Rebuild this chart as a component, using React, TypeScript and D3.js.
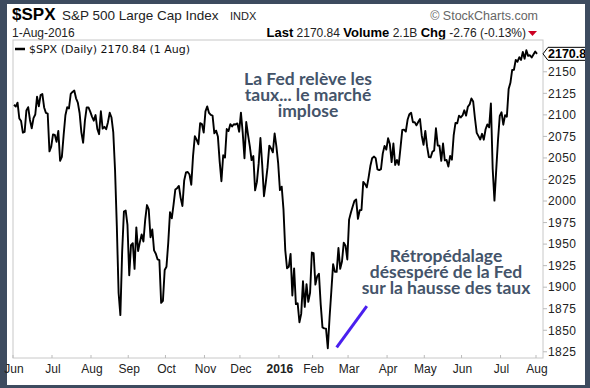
import React from "react";
import * as d3 from "d3";

// month labels on the time axis (first trading day of each month)
const monthLabels = ["Jun", "Jul", "Aug", "Sep", "Oct", "Nov", "Dec", "2016", "Feb", "Mar", "Apr", "May", "Jun", "Jul", "Aug"];

// daily closes of $SPX, grouped by month (Jun 2015 -> 1 Aug 2016)
const jun15 = [2111.7, 2109.6, 2114.1, 2095.8, 2092.8, 2079.3, 2080.2, 2105.2, 2108.9, 2094.1, 2084.4, 2096.3, 2100.4, 2121.2, 2110.0, 2122.9, 2124.2, 2108.6, 2102.3, 2101.5, 2057.6, 2063.1];
const jul15 = [2077.4, 2076.8, 2068.8, 2081.3, 2046.7, 2051.3, 2076.6, 2099.6, 2108.9, 2107.4, 2124.3, 2126.6, 2128.3, 2119.2, 2114.2, 2102.2, 2079.7, 2067.6, 2093.3, 2108.6, 2108.6, 2103.8];
const aug15 = [2098.0, 2093.3, 2099.8, 2083.6, 2077.6, 2104.2, 2084.1, 2086.1, 2083.4, 2091.5, 2102.4, 2096.9, 2079.6, 2035.7, 1970.9, 1893.2, 1867.6, 1940.5, 1987.7, 1988.9, 1972.2];
const sep15 = [1913.9, 1948.9, 1951.1, 1921.2, 1969.4, 1942.0, 1952.3, 1961.1, 1953.0, 1978.1, 1995.3, 1990.2, 1958.0, 1967.0, 1942.7, 1938.8, 1932.2, 1931.3, 1881.8, 1884.1, 1920.0];
const oct15 = [1923.8, 1951.4, 1987.1, 1979.9, 1995.8, 2013.4, 2014.9, 2017.5, 2003.7, 1994.2, 2023.9, 2033.1, 2033.7, 2030.8, 2018.9, 2052.5, 2075.2, 2071.2, 2065.9, 2090.4, 2089.4, 2079.4];
const nov15 = [2104.1, 2109.8, 2102.3, 2099.9, 2099.2, 2078.6, 2081.7, 2075.0, 2046.0, 2023.0, 2053.2, 2050.4, 2083.6, 2081.2, 2089.2, 2086.6, 2089.1, 2088.9, 2090.1, 2080.4];
const dec15 = [2102.6, 2079.5, 2049.6, 2091.7, 2077.1, 2063.6, 2047.6, 2052.2, 2012.4, 2021.9, 2043.4, 2073.1, 2041.9, 2005.6, 2021.2, 2039.0, 2064.3, 2061.0, 2056.5, 2078.4, 2063.4, 2043.9];
const jan16 = [2012.7, 2016.7, 1990.3, 1943.1, 1922.0, 1923.7, 1938.7, 1890.3, 1921.8, 1880.3, 1881.3, 1859.3, 1869.0, 1906.9, 1877.1, 1903.6, 1883.0, 1893.4, 1940.2];
const feb16 = [1939.4, 1903.0, 1912.5, 1915.5, 1880.1, 1853.4, 1852.2, 1851.9, 1829.1, 1864.8, 1895.6, 1926.8, 1917.8, 1917.8, 1945.5, 1921.3, 1929.8, 1951.7, 1948.1, 1932.2];
const mar16 = [1978.4, 1986.5, 1993.4, 2000.0, 2001.8, 1979.3, 1989.3, 1989.6, 2022.2, 2019.6, 2015.9, 2027.2, 2040.6, 2049.6, 2051.6, 2049.8, 2036.7, 2035.9, 2037.1, 2055.0, 2064.0, 2059.7];
const apr16 = [2072.8, 2066.1, 2045.2, 2066.7, 2041.9, 2047.6, 2042.0, 2061.7, 2082.4, 2082.8, 2080.7, 2094.3, 2100.8, 2102.4, 2091.5, 2091.6, 2087.8, 2091.7, 2095.2, 2075.8, 2065.3];
const may16 = [2081.4, 2063.4, 2051.1, 2050.6, 2057.1, 2058.7, 2084.4, 2064.5, 2064.1, 2046.6, 2066.7, 2047.2, 2047.6, 2040.0, 2052.3, 2048.0, 2076.1, 2090.5, 2090.1, 2099.1, 2097.0];
const jun16 = [2099.3, 2105.3, 2099.1, 2109.4, 2112.1, 2119.1, 2115.5, 2096.1, 2079.1, 2075.3, 2071.5, 2078.0, 2071.2, 2083.3, 2088.9, 2085.5, 2113.3, 2037.4, 2000.5, 2036.1, 2070.8, 2098.9];
const jul16 = [2103.0, 2088.6, 2099.7, 2097.9, 2129.9, 2137.2, 2152.1, 2152.4, 2163.8, 2161.7, 2166.9, 2163.8, 2173.0, 2165.2, 2175.0, 2168.5, 2169.2, 2166.6, 2170.1, 2173.6];
const aug16 = [2170.84];

const months = [jun15, jul15, aug15, sep15, oct15, nov15, dec15, jan16, feb16, mar16, apr16, may16, jun16, jul16, aug16];

const yTicks = [1825, 1850, 1875, 1900, 1925, 1950, 1975, 2000, 2025, 2050, 2075, 2100, 2125, 2150];

// annotations: text lines and the purple stroke (trading-day index, price)
const noteFed = ["La Fed relève les", "taux... le marché", "implose"];
const noteBack = ["Rétropédalage", "désespéré de la Fed", "sur la hausse des taux"];
const noteStroke: [number, number][] = [[182, 1830], [199, 1878]];

const W = 590;
const H = 388;
const plot = { left: 13, right: 543, top: 40, bottom: 358 };

export default function App() {
  const closes = months.flat();
  const starts: number[] = [];
  months.reduce((acc, m) => { starts.push(acc); return acc + m.length; }, 0);

  const x = d3.scaleLinear().domain([0, closes.length - 1]).range([14, 537]);
  const y = d3.scaleLinear().domain([1817.8, 2186.9]).range([plot.bottom, plot.top]);

  const line = d3.line<number>().x((_, i) => x(i)).y(d => y(d));
  const last = closes[closes.length - 1];
  const ly = y(last);

  const axisFont = "'Liberation Sans', Arial, sans-serif";
  const noteColor = "#44546a";

  return (
    <svg width={W} height={H} style={{ position: "absolute", left: 0, top: 0 }} fontFamily={axisFont}>
      <rect x={0} y={0} width={W} height={H} fill="#3d4b5f" />
      <rect x={7} y={4} width={578} height={381} fill="#ffffff" />

      {/* header */}
      <text x={12} y={20} fontSize={17} fontWeight="bold" fill="#000">$SPX</text>
      <text x={62} y={20} fontSize={13.5} fill="#222">S&amp;P 500 Large Cap Index</text>
      <text x={230} y={20} fontSize={11} fill="#222">INDX</text>
      <text x={538} y={20} fontSize={12.5} fill="#666" textAnchor="end">© StockCharts.com</text>
      <text x={12} y={37} fontSize={12} fill="#222">1-Aug-2016</text>
      <text x={526} y={37} fontSize={12} fill="#222" textAnchor="end">
        <tspan fontWeight="bold" fontSize={13} fill="#000">Last</tspan> 2170.84{" "}
        <tspan fontWeight="bold" fontSize={13} fill="#000">Volume</tspan> 2.1B{" "}
        <tspan fontWeight="bold" fontSize={13} fill="#000">Chg</tspan> -2.76 (-0.13%)
      </text>
      <path d="M528,31 L537,31 L532.5,36 Z" fill="#cc0022" />

      {/* plot frame */}
      <rect x={plot.left} y={plot.top} width={plot.right - plot.left} height={plot.bottom - plot.top}
        fill="none" stroke="#c8c8c8" strokeWidth={1} />

      {/* legend */}
      <line x1={15} x2={25} y1={49} y2={49} stroke="#000" strokeWidth={2.5} />
      <text x={29} y={53} fontSize={11} fontFamily="'DejaVu Sans', Verdana, sans-serif" fill="#111">
        $SPX (Daily) 2170.84 (1 Aug)
      </text>

      {/* x axis */}
      {starts.map((s, i) => (
        <g key={i}>
          <line x1={x(s) - 1} x2={x(s) - 1} y1={plot.bottom - 3} y2={plot.bottom} stroke="#bbb" />
          <text x={x(s)} y={373} fontSize={12} textAnchor="middle" fill="#222"
            fontWeight={monthLabels[i] === "2016" ? "bold" : "normal"}>{monthLabels[i]}</text>
        </g>
      ))}

      {/* y axis */}
      {yTicks.map(t => (
        <g key={t}>
          <line x1={plot.right} x2={plot.right + 4} y1={y(t)} y2={y(t)} stroke="#bbb" />
          <text x={548} y={y(t) + 4.3} fontSize={12} letterSpacing={0.4} fill="#222">{t}</text>
        </g>
      ))}

      {/* price line */}
      <path d={line(closes) ?? ""} fill="none" stroke="#000" strokeWidth={1.9} strokeLinejoin="round" />

      {/* last price callout */}
      <path d={`M${plot.right},${ly} L${plot.right + 5},${ly - 6.5} L${W},${ly - 6.5} L${W},${ly + 6.5} L${plot.right + 5},${ly + 6.5} Z`}
        fill="#fff" stroke="#000" strokeWidth={1} />
      <text x={plot.right + 5} y={ly + 4.5} fontSize={12.5} fontWeight="bold" fill="#000">{last.toFixed(2)}</text>
      <rect x={585} y={0} width={5} height={H} fill="#3d4b5f" />

      {/* annotations */}
      <g fontFamily="Lato, sans-serif" fontWeight="bold" fontSize={17.5} fill={noteColor} textAnchor="middle">
        {noteFed.map((s, i) => <text key={s} x={308} y={85 + i * 16.2}>{s}</text>)}
        {noteBack.map((s, i) => <text key={s} x={446} y={262 + i * 15.8}>{s}</text>)}
      </g>
      <line x1={x(noteStroke[0][0])} y1={y(noteStroke[0][1])} x2={x(noteStroke[1][0])} y2={y(noteStroke[1][1])}
        stroke="#4a1fef" strokeWidth={3} />
    </svg>
  );
}
